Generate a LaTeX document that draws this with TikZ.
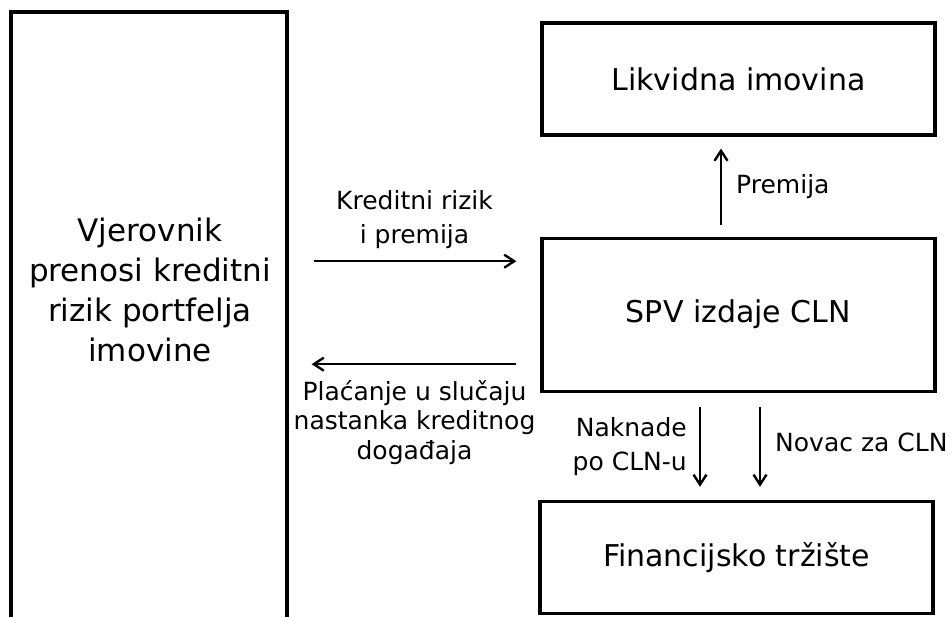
\documentclass[tikz,border=0pt]{standalone}
\usepackage{fontspec}
\setmainfont{DejaVu Sans}
\usetikzlibrary{arrows.meta, positioning}

\begin{document}
\begin{tikzpicture}[x=1pt, y=-1pt,
  box/.style={rectangle, draw, line width=3.2pt, minimum width=393pt, inner sep=0pt, align=center, font=\fontsize{30}{38}\selectfont},
  lbl/.style={align=center, inner sep=0pt, font=\fontsize{25}{34}\selectfont},
  arr/.style={line width=2.4pt, -{Straight Barb[length=10pt, width=13pt]}}]
  \useasboundingbox (0,0) rectangle (952,617);
  \node[box, minimum width=276pt, minimum height=628pt] (vjer) at (149,326) {};
  \node[align=center, inner sep=0pt, font=\fontsize{31}{40}\selectfont] (vjertxt) at (150,290) {Vjerovnik\\prenosi kreditni\\rizik portfelja\\imovine};
  \node[box, minimum height=112pt] (likv) at (738.5,79) {Likvidna imovina};
  \node[box, minimum height=153pt, below=100pt of likv] (spv) {SPV izdaje CLN};
  \node[box, minimum height=112pt, below=107pt of spv, xshift=-2pt] (fin) {Financijsko tržište};
  \coordinate (k1) at ([yshift=53.5pt]spv.west);
  \coordinate (k2) at ([yshift=-49.5pt]spv.west);
  \coordinate (p1) at ([xshift=-17.5pt]spv.north);
  \coordinate (n1) at ([xshift=-38.5pt]spv.south);
  \coordinate (n2) at ([xshift=21.5pt]spv.south);
  \draw[arr, shorten <=25pt, shorten >=24pt] (vjer.east |- k1) -- node[lbl, above=11pt] {Kreditni rizik\\i premija} (k1);
  \draw[arr, shorten <=24pt, shorten >=23pt] (k2) -- node[lbl, below=15pt, font=\fontsize{25}{29.5}\selectfont] {Plaćanje u slučaju\\nastanka kreditnog\\događaja} (vjer.east |- k2);
  \draw[arr, shorten <=12pt, shorten >=12pt] (p1) -- node[lbl, right=14pt] {Premija} (p1 |- likv.south);
  \draw[arr, shorten <=14pt, shorten >=13pt] (n1) -- node[lbl, left=12pt, align=right] {Naknade\\po CLN-u} (n1 |- fin.north);
  \draw[arr, shorten <=14pt, shorten >=13pt] (n2) -- node[lbl, right=14pt, yshift=4pt] {Novac za CLN} (n2 |- fin.north);
\end{tikzpicture}
\end{document}
